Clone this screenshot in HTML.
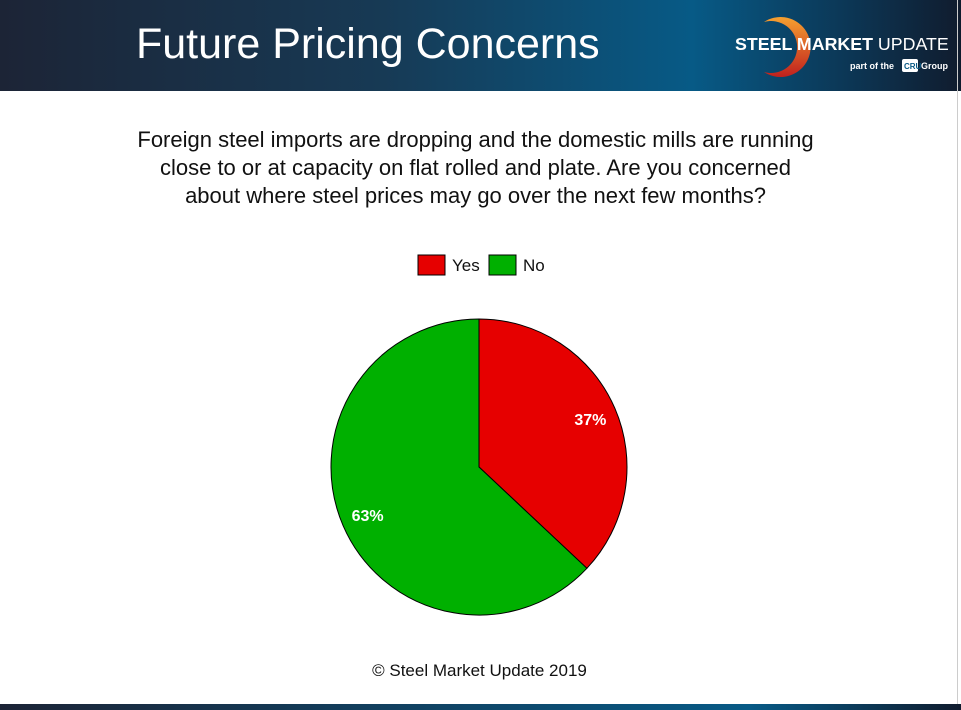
<!DOCTYPE html>
<html><head><meta charset="utf-8"><style>
body{margin:0;width:961px;height:710px;overflow:hidden;background:#fff;font-family:"Liberation Sans",sans-serif;position:relative}
#hdr{position:absolute;left:0;top:0;width:961px;height:91px;background:linear-gradient(90deg,#1c2436 0%,#173a55 40%,#075a86 72%,#0c3756 88%,#101c2e 100%)}
#ttl{position:absolute;left:136px;top:20px;color:#fff;font-size:43px}
#q{position:absolute;left:0;width:951px;top:126px;text-align:center;font-size:22px;line-height:28px;color:#111}
#ftr{position:absolute;left:0;top:704px;width:961px;height:6px;background:linear-gradient(90deg,#1c2436,#075a86 78%,#101c2e)}
#copy{position:absolute;left:0;width:959px;top:661px;text-align:center;font-size:17px;color:#111}
</style></head><body>
<div id="hdr">
<div id="ttl">Future Pricing Concerns</div>
<svg style="position:absolute;left:720px;top:0" width="241" height="91">
<defs><linearGradient id="arc" x1="0" y1="0" x2="0" y2="1"><stop offset="0" stop-color="#f5a030"/><stop offset="1" stop-color="#c0201e"/></linearGradient></defs>
<path d="M44 22 A30 30 0 1 1 44 72 A26 26 0 1 0 44 22Z" fill="url(#arc)"/>
<text x="15" y="50" fill="#fff" font-size="17.8" font-weight="bold" font-family="Liberation Sans">STEEL MARKET <tspan font-weight="normal">UPDATE</tspan></text>
<text x="130" y="69" fill="#fff" font-size="9" font-weight="bold">part of the</text>
<rect x="182" y="59" width="16" height="13" fill="#fff" rx="2"/>
<text x="184" y="69" fill="#075a86" font-size="8" font-weight="bold">CRU</text>
<text x="201" y="69" fill="#fff" font-size="9" font-weight="bold">Group</text>
</svg>
</div>
<div id="q">Foreign steel imports are dropping and the domestic mills are running<br>close to or at capacity on flat rolled and plate. Are you concerned<br>about where steel prices may go over the next few months?</div>
<svg id="chart" style="position:absolute;left:0;top:0" width="961" height="710"></svg>
<div id="copy">© Steel Market Update 2019</div>
<div style="position:absolute;left:957px;top:0;width:1px;height:710px;background:#ccc"></div>
<div id="ftr"></div>
<script>
const categories=["Yes","No"];
const values=[37,63];
const colors=["#e60000","#00b000"];
const svg=document.getElementById('chart');
const NS="http://www.w3.org/2000/svg";
const cx=479,cy=467,r=148;
const total=values.reduce((a,b)=>a+b,0);
let a0=0;
function pt(a,rr){return [cx+rr*Math.sin(a),cy-rr*Math.cos(a)];}
values.forEach((v,i)=>{
 const a1=a0+v/total*2*Math.PI;
 const p0=pt(a0,r),p1=pt(a1,r);
 const path=document.createElementNS(NS,'path');
 path.setAttribute('d',`M${cx} ${cy}L${p0[0]} ${p0[1]}A${r} ${r} 0 ${a1-a0>Math.PI?1:0} 1 ${p1[0]} ${p1[1]}Z`);
 path.setAttribute('fill',colors[i]);path.setAttribute('stroke','#000');path.setAttribute('stroke-width','1');
 
 
 svg.appendChild(path);
 const m=(a0+a1)/2,lp=pt(m,r*0.82);
 const t=document.createElementNS(NS,'text');
 t.setAttribute('x',lp[0]);t.setAttribute('y',lp[1]+6);t.setAttribute('text-anchor','middle');
 t.setAttribute('fill','#fff');t.setAttribute('font-weight','bold');t.setAttribute('font-size','16');
 t.textContent=v+'%';
 
 
 svg.appendChild(t);
 a0=a1;
});
let lx=418;
categories.forEach((c,i)=>{
 const rc=document.createElementNS(NS,'rect');
 rc.setAttribute('x',lx);rc.setAttribute('y',255);rc.setAttribute('width',27);rc.setAttribute('height',20);
 rc.setAttribute('fill',colors[i]);rc.setAttribute('stroke','#000');
 
 
 svg.appendChild(rc);
 const t=document.createElementNS(NS,'text');
 t.setAttribute('x',lx+34);t.setAttribute('y',271);t.setAttribute('font-size','17');t.setAttribute('fill','#111');
 t.textContent=c;
 
 
 svg.appendChild(t);
 lx+=71;
});
</script>
</body></html>
